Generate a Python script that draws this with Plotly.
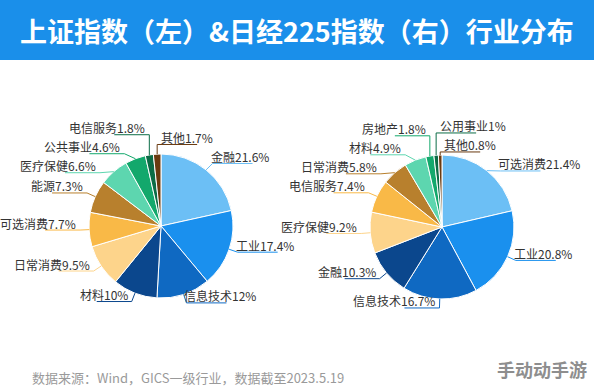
import math
import plotly.graph_objects as go

W, H = 594, 387

# ---------------- data ----------------
title_text = "上证指数（左）&日经225指数（右）行业分布"
source_text = "数据来源：Wind，GICS一级行业，数据截至2023.5.19"
watermark_text = "手动动手游"

left_labels = ["金融", "工业", "信息技术", "材料", "日常消费", "可选消费",
               "能源", "医疗保健", "公共事业", "电信服务", "其他"]
left_values = [21.6, 17.4, 12, 10, 9.5, 7.7, 7.3, 6.6, 4.6, 1.8, 1.7]

right_labels = ["可选消费", "工业", "信息技术", "金融", "医疗保健", "电信服务",
                "日常消费", "材料", "房地产", "公用事业", "其他"]
right_values = [21.4, 20.8, 16.7, 10.3, 9.2, 7.4, 5.8, 4.9, 1.8, 1, 0.8]

# ---------------- style ----------------
palette = ["#6CBFF5", "#1A90EE", "#0F69C2", "#0B478D", "#FDD48B", "#F9B947",
           "#B8802D", "#5DD6AF", "#13A86C", "#0B6C46", "#6A3A10"]
BANNER = "#1A8FEA"
FONT = "Noto Sans CJK SC"
TEXT_COLOR = "#333333"

PIE_R = 72
LEFT_C = (161, 226)
RIGHT_C = (442, 227)
L1 = 9           # radial part of leader line
L2_RIGHT = 40    # underline length, right-side labels
L2_LEFT = 35     # underline length, left-side labels
SPACING = 19     # min vertical distance between labels
TOP_DEG = 6      # slices this close to 12 o'clock get labels on the right
BANNER_H = 60


def fx(x):
    return x / W


def fy(y):
    return 1 - y / H


def pav(z):
    blocks = []
    for v in z:
        blocks.append([v, 1])
        while len(blocks) > 1 and blocks[-2][0] / blocks[-2][1] > blocks[-1][0] / blocks[-1][1]:
            s, c = blocks.pop()
            blocks[-1][0] += s
            blocks[-1][1] += c
    out = []
    for s, c in blocks:
        out += [s / c] * c
    return out


def label_layout(labels, values, cx, cy, r):
    total = sum(values)
    R = r + L1
    items = []
    cum = 0.0
    for i, (lab, v) in enumerate(zip(labels, values)):
        mid = (cum + v / 2) / total * 360
        cum += v
        th = math.radians(mid)
        p0 = (cx + r * math.sin(th), cy - r * math.cos(th))
        top = (360 - mid) < TOP_DEG or mid < TOP_DEG
        right = math.sin(th) >= 0 or top
        if right:
            order = mid - 360 if mid > 180 else mid
        else:
            order = -mid
        items.append(dict(idx=i, text=f"{lab}{v:g}%", p0=p0,
                          y=cy - R * math.cos(th), right=right, top=top,
                          order=order))
    for side in (True, False):
        grp = sorted([it for it in items if it["right"] == side], key=lambda it: it["order"])
        z = pav([it["y"] - k * SPACING for k, it in enumerate(grp)])
        for k, it in enumerate(grp):
            it["ly"] = z[k] + k * SPACING
    for it in items:
        dy = it["ly"] - cy
        p0x = it["p0"][0]
        if it["top"] or abs(dy) >= R:
            kx = p0x
        else:
            off = math.sqrt(R * R - dy * dy)
            kx = cx + off if it["right"] else cx - off
            kx = max(kx, p0x) if it["right"] else min(kx, p0x)
        it["kx"] = kx
    return items


fig = go.Figure()
shapes = []
annotations = []

# banner
shapes.append(dict(type="rect", xref="paper", yref="paper", x0=0, x1=1,
                   y0=fy(BANNER_H), y1=1, fillcolor=BANNER, line_width=0, layer="below"))

for labels, values, (cx, cy) in ((left_labels, left_values, LEFT_C),
                                 (right_labels, right_values, RIGHT_C)):
    fig.add_trace(go.Pie(
        labels=labels, values=values, sort=False, direction="clockwise", rotation=0,
        marker=dict(colors=palette, line=dict(color="white", width=1)),
        textinfo="none", hoverinfo="label+value", showlegend=False,
        domain=dict(x=[fx(cx - PIE_R), fx(cx + PIE_R)],
                    y=[fy(cy + PIE_R), fy(cy - PIE_R)]),
    ))
    for it in label_layout(labels, values, cx, cy, PIE_R):
        col = palette[it["idx"]]
        x0, y0 = it["p0"]
        kx, ly = it["kx"], it["ly"]
        ex = kx + L2_RIGHT if it["right"] else kx - L2_LEFT
        path = (f"M {fx(x0)},{fy(y0)} L {fx(kx)},{fy(ly)} L {fx(ex)},{fy(ly)}")
        shapes.append(dict(type="path", xref="paper", yref="paper", path=path,
                           line=dict(color=col, width=1)))
        if it["right"]:
            tx = kx + 2 if it["top"] else kx - 4
            anchor = "left"
        else:
            tx = kx - 2
            anchor = "right"
        annotations.append(dict(x=fx(tx), y=fy(ly - 7), xref="paper", yref="paper",
                                text=it["text"], showarrow=False, xanchor=anchor,
                                yanchor="middle",
                                font=dict(family=FONT, size=12, color=TEXT_COLOR)))

annotations.append(dict(x=0.5, y=fy(30), xref="paper", yref="paper", text=title_text,
                        showarrow=False, xanchor="center", yanchor="middle",
                        font=dict(family=FONT, size=27, color="white", weight="bold")))
annotations.append(dict(x=fx(30), y=fy(377), xref="paper", yref="paper", text=source_text,
                        showarrow=False, xanchor="left", yanchor="middle",
                        font=dict(family=FONT, size=13, color="#9A9A9A")))
annotations.append(dict(x=fx(589), y=fy(369), xref="paper", yref="paper", text=watermark_text,
                        showarrow=False, xanchor="right", yanchor="middle",
                        font=dict(family=FONT, size=18, color="#8E8E8E", weight="bold")))

fig.update_layout(
    width=W, height=H, margin=dict(l=0, r=0, t=0, b=0),
    paper_bgcolor="white", plot_bgcolor="white",
    shapes=shapes, annotations=annotations,
)

fig.write_html("out.html", config={"displayModeBar": False},
               post_script="document.body.style.margin='0';")
